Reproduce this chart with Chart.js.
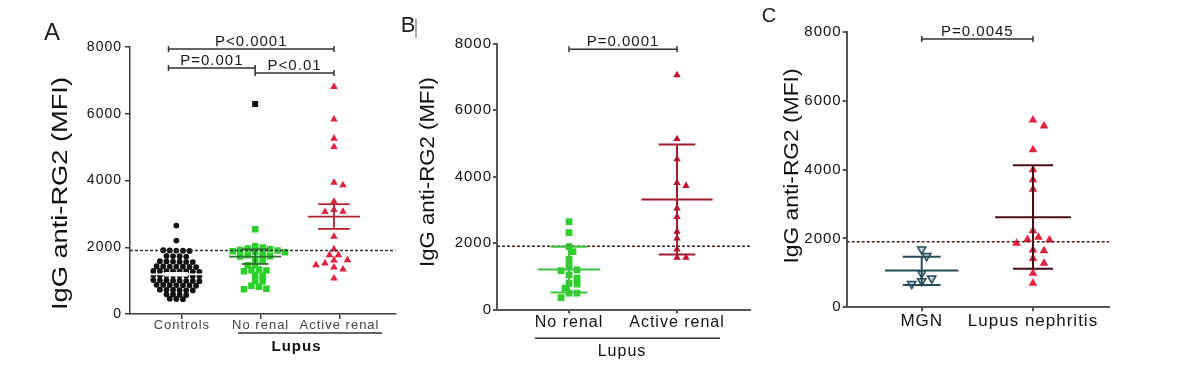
<!DOCTYPE html>
<html><head><meta charset="utf-8">
<script src="https://cdn.jsdelivr.net/npm/chart.js@4/dist/chart.umd.min.js"></script>
<style>
html,body{margin:0;padding:0;background:#fff;}
#wrap{position:relative;width:1200px;height:375px;overflow:hidden;background:#fff;}
.pan{position:absolute;top:0;height:375px;}
canvas{display:block;}
</style></head><body>
<div id="wrap">
<div class="pan" style="left:0;width:400px"><canvas id="cA" width="400" height="375"></canvas></div>
<div class="pan" style="left:400px;width:355px"><canvas id="cB" width="355" height="375"></canvas></div>
<div class="pan" style="left:755px;width:445px"><canvas id="cC" width="445" height="375"></canvas></div>
</div>
<script>
// ---------------- DATA ----------------
const yTicks = [0, 2000, 4000, 6000, 8000];
const yTitle = 'IgG anti-RG2 (MFI)';
const threshold = 1900;

// Panel A
const catsA = ['Controls', 'No renal', 'Active renal'];
const controlsA = [2650, 2200,
  1910, 1900, 1890, 1905, 1895,
  1740, 1730, 1720, 1735,
  1580, 1570, 1560, 1575, 1565, 1555,
  1430, 1420, 1410, 1425, 1415, 1405, 1420,
  1290, 1280, 1270, 1285, 1275, 1265, 1280, 1290,
  1150, 1140, 1160, 1145, 1155, 1135, 1150, 1165,
  1010, 1000, 990, 1005, 995, 1015, 1000, 985,
  870, 860, 850, 865, 855, 875, 860,
  720, 710, 730, 715, 725, 705,
  590, 580, 570, 585,
  460, 450, 445];
const noRenalA = [2540, 2030, 1990, 1960, 1940, 1920, 1900, 1880, 1860, 1850, 1790, 1760, 1730, 1720,
  1640, 1610, 1470, 1460, 1330, 1310, 1300, 1280, 1170, 1150, 1000, 980, 850, 820, 760, 740];
const outlierA = [6290];
const activeRenalA = [6810, 5830, 5260, 5010, 3940, 3860, 3370, 3120, 3070, 3060, 2320, 1940,
  1770, 1770, 1620, 1610, 1520, 1470, 1400, 1340, 1070];
const meanA = [1190, 1720, 2915];
const errLowA = [1150, 1500, 2550];
const errHighA = [1230, 1940, 3290];
const pLabelsA = ['P<0.0001', 'P=0.001', 'P<0.01'];
const pPairsA = [[1, 3], [1, 2], [2, 3]];
const pLevelsA = [7940, 7370, 7220];

// Panel B
const catsB = ['No renal', 'Active renal'];
const noRenalB = [2640, 2310, 1890, 1740, 1510, 1310, 1190, 1170, 1040, 940, 790, 760, 640, 490, 490, 355];
const activeRenalB = [7050, 5130, 4520, 3810, 3720, 3040, 2790, 2340, 2140, 1810, 1560, 1560];
const meanB = [1200, 3310];
const errLowB = [510, 1655];
const errHighB = [1890, 4960];
const pLabelsB = ['P=0.0001'];
const pPairsB = [[1, 2]];
const pLevelsB = [7830];

// Panel C
const catsC = ['MGN', 'Lupus nephritis'];
const mgnC = [1680, 1490, 990, 840, 760, 680];
const lupusNephritisC = [5440, 5260, 4570, 3990, 3700, 3430, 2220, 2030, 1970, 1950, 1860, 1660, 1640, 1420, 1280, 990, 700];
const meanC = [1065, 2612];
const errLowC = [650, 1120];
const errHighC = [1470, 4120];
const pLabelsC = ['P=0.0045'];
const pPairsC = [[1, 2]];
const pLevelsC = [7790];

const groupLabel = 'Lupus';
const panelLetters = ['A', 'B', 'C'];

// ---------------- HELPERS ----------------
const FAM = '"Liberation Sans", Arial, sans-serif';
Chart.defaults.font.family = FAM;

// beeswarm placement computed from the values (elliptical collision)
function swarm(vals, center, pxPerVal, pxPerCat, d, vf) {
  const dv = d * (vf || 0.68);
  const order = vals.map((v, i) => i).sort((a, b) => vals[b] - vals[a]);
  const placed = [];
  const pts = [];
  for (const i of order) {
    const py = vals[i] * pxPerVal;
    let k = 0, off = 0;
    for (;;) {
      off = k === 0 ? 0 : (k % 2 ? 1 : -1) * Math.ceil(k / 2) * d / 2;
      if (placed.every(p => ((p[0] - off) / d) ** 2 + ((p[1] - py) / dv) ** 2 >= 0.99)) break;
      k++;
    }
    placed.push([off, py]);
    pts.push({ x: center + off / pxPerCat, y: vals[i] });
  }
  return pts;
}

// row-based scatter (GraphPad style): near-equal values share a row, centred
function rows(vals, center, pxPerVal, pxPerCat, d, tol) {
  const sorted = vals.slice().sort((a, b) => b - a);
  const groups = [];
  for (const v of sorted) {
    const g = groups[groups.length - 1];
    if (g && (g[0] - v) * pxPerVal <= tol) g.push(v); else groups.push([v]);
  }
  const pts = [];
  for (const g of groups) {
    g.forEach((v, j) => pts.push({ x: center + (j - (g.length - 1) / 2) * d / pxPerCat, y: v }));
  }
  return pts;
}

function decoPlugin(p) {
  return {
    id: 'deco' + p.id,
    beforeDraw(chart) { chart.ctx.letterSpacing = '1px'; },
    afterDatasetsDraw(chart) {
      const ctx = chart.ctx, a = chart.chartArea, x = chart.scales.x, y = chart.scales.y;
      ctx.save();
      ctx.setLineDash([3, 2]);
      ctx.strokeStyle = p.dashColor; ctx.lineWidth = 1.5;
      const ty = y.getPixelForValue(threshold);
      ctx.beginPath(); ctx.moveTo(a.left, ty); ctx.lineTo(a.right, ty); ctx.stroke();
      ctx.setLineDash([]);
      p.means.forEach((m, i) => {
        const cx = i + 1 + p.shift;
        ctx.strokeStyle = p.barColors[i]; ctx.lineWidth = p.barWidth;
        const hl = (v, hw) => {
          ctx.beginPath();
          ctx.moveTo(x.getPixelForValue(cx - hw), y.getPixelForValue(v));
          ctx.lineTo(x.getPixelForValue(cx + hw), y.getPixelForValue(v));
          ctx.stroke();
        };
        hl(m, p.meanHalf[i]); hl(p.lo[i], p.capHalf[i]); hl(p.hi[i], p.capHalf[i]);
        ctx.beginPath();
        ctx.moveTo(x.getPixelForValue(cx), y.getPixelForValue(p.lo[i]));
        ctx.lineTo(x.getPixelForValue(cx), y.getPixelForValue(p.hi[i]));
        ctx.stroke();
      });
      ctx.restore();
    },
    afterDraw(chart) {
      const ctx = chart.ctx, x = chart.scales.x, y = chart.scales.y;
      ctx.save();
      ctx.letterSpacing = '1px';
      p.pairs.forEach((pr, i) => {
        const x1 = x.getPixelForValue(pr[0] + p.shift - (p.leftExt[pr[0] - 1] || 0));
        const x2 = x.getPixelForValue(pr[1] + p.shift);
        const yy = y.getPixelForValue(p.levels[i]);
        ctx.strokeStyle = '#333'; ctx.lineWidth = 1.5;
        ctx.beginPath();
        ctx.moveTo(x1, yy); ctx.lineTo(x2, yy);
        ctx.moveTo(x1, yy - 3); ctx.lineTo(x1, yy + 3);
        ctx.moveTo(x2, yy - 3); ctx.lineTo(x2, yy + 3);
        ctx.stroke();
        ctx.fillStyle = '#1a1a1a';
        ctx.font = p.pFont + ' ' + FAM;
        ctx.textAlign = 'center'; ctx.textBaseline = 'alphabetic';
        ctx.fillText(p.labels[i], (x1 + x2) / 2, yy - 3);
      });
      const t = p.title;
      ctx.save();
      ctx.translate(t.x, t.y); ctx.rotate(-Math.PI / 2);
      ctx.letterSpacing = '0px';
      ctx.font = t.size + 'px ' + FAM;
      const w = ctx.measureText(yTitle).width;
      ctx.scale(t.len / w, 1);
      ctx.textAlign = 'center'; ctx.textBaseline = 'middle'; ctx.fillStyle = '#111';
      ctx.fillText(yTitle, 0, 0);
      ctx.restore();
      ctx.font = p.letter.size + 'px ' + FAM;
      ctx.letterSpacing = '0px';
      ctx.textAlign = 'center'; ctx.textBaseline = 'middle'; ctx.fillStyle = '#222';
      ctx.fillText(p.letter.text, p.letter.x, p.letter.y);
      if (p.cursor) {
        ctx.strokeStyle = '#555'; ctx.lineWidth = 1;
        ctx.beginPath(); ctx.moveTo(p.cursor[0], p.cursor[1]); ctx.lineTo(p.cursor[0], p.cursor[2]); ctx.stroke();
      }
      if (p.group) {
        const g = p.group;
        ctx.strokeStyle = '#333'; ctx.lineWidth = 1.5;
        ctx.beginPath(); ctx.moveTo(g.line[0], g.line[2]); ctx.lineTo(g.line[1], g.line[2]); ctx.stroke();
        ctx.letterSpacing = '1px';
        ctx.font = g.font + ' ' + FAM; ctx.fillStyle = '#111';
        ctx.textAlign = 'center'; ctx.textBaseline = 'middle';
        ctx.fillText(groupLabel, g.x, g.y);
      }
      ctx.restore();
    }
  };
}

function makePanel(p, datasets) {
  const ar = p.area;
  return new Chart(document.getElementById(p.canvas), {
    type: 'scatter',
    data: { datasets },
    options: {
      responsive: false, animation: false, devicePixelRatio: 1,
      events: [],
      layout: { padding: { left: ar.l - p.yW, top: ar.t, right: p.W - ar.r, bottom: p.H - ar.b - p.xH } },
      plugins: { legend: { display: false }, tooltip: { enabled: false } },
      scales: {
        x: {
          type: 'linear', min: p.xMin, max: p.xMax,
          afterBuildTicks: s => { s.ticks = p.cats.map((c, i) => ({ value: i + 1 })); },
          afterFit: s => { s.height = p.xH; },
          ticks: {
            callback: v => p.cats[Math.round(v) - 1] || '',
            autoSkip: false, maxRotation: 0, minRotation: 0,
            font: { size: p.xFont, lineHeight: 1 }, color: p.xColor, padding: p.xPad
          },
          grid: { drawOnChartArea: false, drawTicks: true, tickLength: p.tickLen, color: p.axisColor, lineWidth: p.axisWidth },
          border: { display: true, color: p.axisColor, width: p.axisWidth }
        },
        y: {
          min: 0, max: 8000,
          afterBuildTicks: s => { s.ticks = yTicks.map(v => ({ value: v })); },
          afterFit: s => { s.width = p.yW; },
          ticks: { callback: v => String(v), font: { size: p.yFont }, color: '#111', padding: p.yPad },
          grid: { drawOnChartArea: false, drawTicks: true, tickLength: p.tickLen, color: p.axisColor, lineWidth: p.axisWidth },
          border: { display: true, color: p.axisColor, width: p.axisWidth }
        }
      }
    },
    plugins: [decoPlugin(p)]
  });
}

// ---------------- PANEL A ----------------
const pA = {
  id: 'A', canvas: 'cA', W: 400, H: 375, area: { l: 130, t: 47, r: 396, b: 314 }, yW: 100, xH: 40,
  xMin: 0.342, xMax: 3.709, shift: -0.07, cats: catsA,
  axisColor: '#3c3c3c', axisWidth: 1.5, tickLen: 5,
  yFont: 14, yPad: 3, xFont: 13, xColor: '#444', xPad: 0,
  dashColor: '#333',
  means: meanA, lo: errLowA, hi: errHighA,
  barColors: ['#ffffff', '#2f6f2f', '#b3202e'], barWidth: 1.8,
  meanHalf: [0.36, 0.33, 0.33], capHalf: [0.15, 0.17, 0.2],
  pairs: pPairsA, levels: pLevelsA, labels: pLabelsA, leftExt: [0.1, 0, 0], pFont: '15px',
  title: { x: 61, y: 193.5, size: 22, len: 233 },
  letter: { text: panelLetters[0], x: 52, y: 33, size: 24 },
  group: { x: 296.5, y: 347, font: 'bold 15px', line: [238, 382, 333] }
};
const pyA = 267 / 8000, pxA = 79;
makePanel(pA, [
  { data: rows(controlsA, 1 + pA.shift, pyA, pxA, 6.6, 2), pointStyle: 'circle', pointRadius: 2.9, backgroundColor: '#111', borderWidth: 0 },
  { data: swarm(noRenalA, 2 + pA.shift, pyA, pxA, 7.5), pointStyle: 'rect', pointRadius: 4.6, backgroundColor: '#2bd02b', borderWidth: 0 },
  { data: outlierA.map(v => ({ x: 2 + pA.shift, y: v })), pointStyle: 'rect', pointRadius: 4.2, backgroundColor: '#111', borderWidth: 0 },
  { data: swarm(activeRenalA, 3 + pA.shift, pyA, pxA, 9), pointStyle: 'triangle', pointRadius: 4.4, backgroundColor: '#e3223f', borderWidth: 0 }
]);

// ---------------- PANEL B ----------------
const pB = {
  id: 'B', canvas: 'cB', W: 355, H: 375, area: { l: 97, t: 43.5, r: 350, b: 309.5 }, yW: 80, xH: 40,
  xMin: 0.333, xMax: 2.676, shift: 0, cats: catsB,
  axisColor: '#555', axisWidth: 2, tickLen: 4,
  yFont: 15, yPad: 1, xFont: 16, xColor: '#111', xPad: 1,
  dashColor: '#5a1a1a',
  means: meanB, lo: errLowB, hi: errHighB,
  barColors: ['#3cc43c', '#9e1b32'], barWidth: 2,
  meanHalf: [0.29, 0.33], capHalf: [0.17, 0.17],
  pairs: pPairsB, levels: pLevelsB, labels: pLabelsB, leftExt: [0, 0], pFont: '15px',
  title: { x: 28, y: 172, size: 21, len: 190 },
  letter: { text: panelLetters[1], x: 8, y: 26, size: 22 }, cursor: [16, 19, 38],
  group: { x: 222, y: 351.7, font: '16px', line: [135, 320, 338.3] }
};
const pyB = 266 / 8000, pxB = 108;
makePanel(pB, [
  { data: swarm(noRenalB, 1, pyB, pxB, 8), pointStyle: 'rect', pointRadius: 4.8, backgroundColor: '#2bd02b', borderWidth: 0 },
  { data: swarm(activeRenalB, 2, pyB, pxB, 9), pointStyle: 'triangle', pointRadius: 4.3, backgroundColor: '#c8102e', borderWidth: 0 }
]);

// ---------------- PANEL C ----------------
const pC = {
  id: 'C', canvas: 'cC', W: 445, H: 375, area: { l: 91.7, t: 31.7, r: 354, b: 307.3 }, yW: 80, xH: 40,
  xMin: 0.326, xMax: 2.683, shift: 0, cats: catsC,
  axisColor: '#555', axisWidth: 2, tickLen: 4,
  yFont: 15, yPad: 1, xFont: 17, xColor: '#111', xPad: 2,
  dashColor: '#5a1a1a',
  means: meanC, lo: errLowC, hi: errHighC,
  barColors: ['#2b4a5a', '#4a0f16'], barWidth: 2,
  meanHalf: [0.33, 0.34], capHalf: [0.17, 0.18],
  pairs: pPairsC, levels: pLevelsC, labels: pLabelsC, leftExt: [0, 0], pFont: '15px',
  title: { x: 37, y: 166, size: 21, len: 195 },
  letter: { text: panelLetters[2], x: 14, y: 16, size: 20 }
};
const pyC = 275.6 / 8000, pxC = 111.3;
makePanel(pC, [
  { data: swarm(mgnC, 1, pyC, pxC, 10), pointStyle: 'triangle', rotation: 180, pointRadius: 4.8, backgroundColor: '#bcd5e0', borderColor: '#2b4a5a', borderWidth: 1.5 },
  { data: swarm(lupusNephritisC, 2, pyC, pxC, 11), pointStyle: 'triangle', pointRadius: 5, backgroundColor: '#e3223f', borderWidth: 0 }
]);
</script>
</body></html>
